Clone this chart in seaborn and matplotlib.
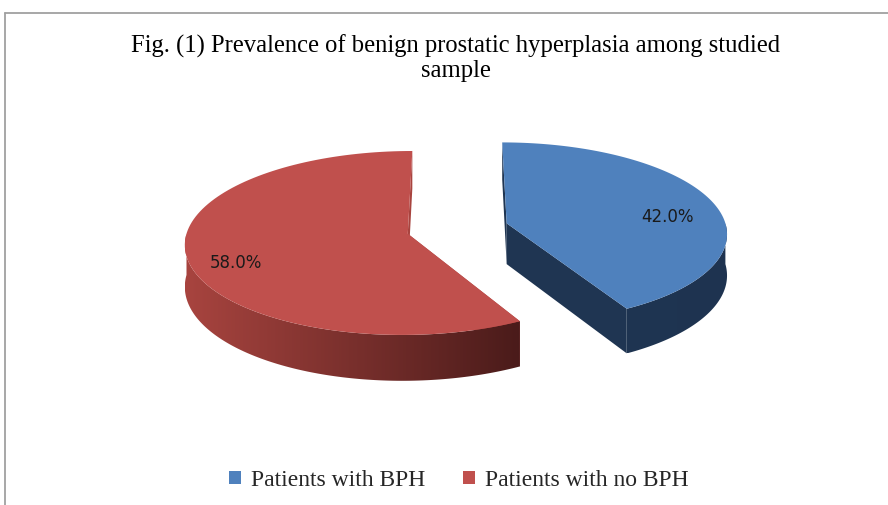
import numpy as np
import matplotlib
matplotlib.use("Agg")
import matplotlib.pyplot as plt
from matplotlib.patches import Polygon, Patch
from matplotlib.lines import Line2D
import seaborn as sns

# donnees du graphique
labels = ["Patients with BPH", "Patients with no BPH"]
values = [42.0, 58.0]
top_colors = ["#4F81BD", "#C0504D"]
side_colors = [["#1F3552", "#1E3350"], ["#A8443F", "#4A1B1A"]]
title = "Fig. (1) Prevalence of benign prostatic hyperplasia among studied\nsample"

sns.set_style("white")
plt.rcParams["font.family"] = ["Liberation Serif", "DejaVu Serif"]

W, H = 888, 506
fig = plt.figure(figsize=(W / 100, H / 100), dpi=100)
ax = fig.add_axes([0, 0, 1, 1])

# geometrie du camembert 3D (en pixels)
CX, CY = 457.5, 229.5
A, B = 220.0, 90.0
PERSP = 0.1
DEPTH = 41.0
EXPLODE = 0.232
LABEL_FRAC = 0.78


def project(X, U, dz=0.0):
    """Projette un point du plan (X lateral, U vers l'observateur)."""
    k = 1.0 / (1.0 - PERSP * U)
    return CX + A * X * k, CY + B * U * k + dz * k


def arc(t0, t1, ox, ou, dz, n=120):
    th = np.radians(np.linspace(t0, t1, n))
    x, y = project(ox + np.sin(th), ou - np.cos(th), dz)
    return np.column_stack([x, y])


total = sum(values)
start = 0.0
z = 1
for i, (val, lab) in enumerate(zip(values, labels)):
    ext = 360.0 * val / total
    t0, t1 = start, start + ext
    mid = np.radians(t0 + ext / 2)
    ox, ou = EXPLODE * np.sin(mid), -EXPLODE * np.cos(mid)
    vt = project(ox, ou, 0)
    vb = project(ox, ou, DEPTH)

    # faces radiales
    for t in (t0, t1):
        et = arc(t, t, ox, ou, 0, n=1)[0]
        eb = arc(t, t, ox, ou, DEPTH, n=1)[0]
        face = Polygon([vt, et, eb, vb], closed=True,
                       facecolor=side_colors[i][0], edgecolor="none", zorder=z)
        ax.add_patch(face)
        z += 1

    # paroi courbe visible (avant)
    s0, s1 = max(t0, 90.0), min(t1, 270.0)
    if s1 > s0:
        top = arc(s0, s1, ox, ou, 0)
        bot = arc(s0, s1, ox, ou, DEPTH)
        side = Polygon(np.vstack([top, bot[::-1]]), closed=True,
                       facecolor="none", edgecolor="none", zorder=z)
        ax.add_patch(side)
        xs = np.vstack([top, bot])[:, 0]
        ys = np.vstack([top, bot])[:, 1]
        grad = np.array(sns.blend_palette(side_colors[i], 256))[None, :, :]
        im = ax.imshow(grad, extent=[xs.min(), xs.max(), ys.max(), ys.min()],
                       aspect="auto", zorder=z, interpolation="bilinear")
        im.set_clip_path(side)
        z += 1

    # face superieure
    top_face = np.vstack([[vt], arc(t0, t1, ox, ou, 0)])
    ax.add_patch(Polygon(top_face, closed=True, facecolor=top_colors[i],
                         edgecolor="none", zorder=z))
    z += 1

    lx, ly = project(ox + LABEL_FRAC * np.sin(mid), ou - LABEL_FRAC * np.cos(mid), DEPTH / 4)
    ax.text(lx, ly, f"{val:.1f}%", ha="center", va="center", fontsize=12,
            family=["DejaVu Sans"], color="#1a1a1a", zorder=50)
    start = t1

ax.set_xlim(0, W)
ax.set_ylim(H, 0)
ax.axis("off")

# titre
fig.text(456 / W, 1 - 58 / H, title, ha="center", va="center",
         fontsize=17.7, linespacing=1.12, color="#000000")

# legende
handles = [Patch(facecolor=c, edgecolor="none") for c in top_colors]
fig.legend(handles, labels, loc="center", bbox_to_anchor=(459 / W, 1 - 481 / H),
           ncol=2, frameon=False, fontsize=17, handlelength=0.48, handleheight=0.48,
           handletextpad=0.45, columnspacing=1.6)

# cadre gris
fig.add_artist(Line2D([5 / W, 1], [1 - 14 / H, 1 - 14 / H], color="#a0a0a0", lw=1.3))
fig.add_artist(Line2D([5 / W, 5 / W], [1 - 14 / H, 0], color="#a0a0a0", lw=1.3))

fig.savefig("out.png", dpi=100)
